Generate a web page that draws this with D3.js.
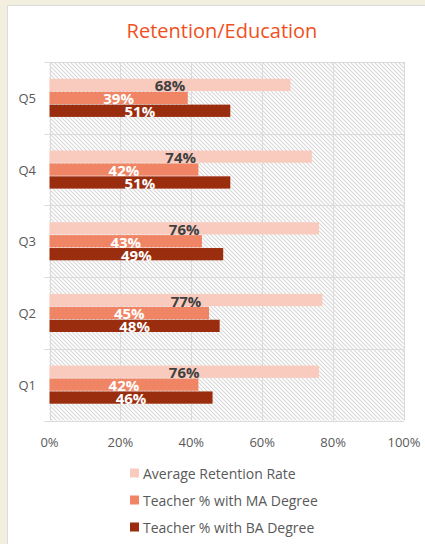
<!DOCTYPE html>
<html>
<head>
<meta charset="utf-8">
<script src="https://cdn.jsdelivr.net/npm/d3@7"></script>
<style>
  html, body { margin: 0; padding: 0; background: #f3efdf; }
  svg { display: block; }
</style>
</head>
<body>
<script>
// Chart data
const categories = ["Q5", "Q4", "Q3", "Q2", "Q1"];
const seriesNames = ["Average Retention Rate", "Teacher % with MA Degree", "Teacher % with BA Degree"];
const retention = [68, 74, 76, 77, 76];
const maDegree  = [39, 42, 43, 45, 42];
const baDegree  = [51, 51, 49, 48, 46];
const xTicks = [0, 20, 40, 60, 80, 100];

const seriesValues = [retention, maDegree, baDegree];
const colors = ["#f9cbbe", "#f08565", "#9b2d0f"];
const labelColors = ["#404040", "#ffffff", "#ffffff"];

const W = 425, H = 544;
const font = "'Open Sans', sans-serif";

const svg = d3.select("body").append("svg").attr("width", W).attr("height", H);

// Panel
svg.append("rect").attr("x", 7.5).attr("y", 5.5).attr("width", W).attr("height", H)
  .attr("fill", "#ffffff").attr("stroke", "#dcdcdc");

// Hatch pattern for the plot area
const defs = svg.append("defs");
const pat = defs.append("pattern").attr("id", "hatch")
  .attr("patternUnits", "userSpaceOnUse").attr("width", 4).attr("height", 4);
pat.append("rect").attr("width", 4).attr("height", 4).attr("fill", "#ffffff");
pat.append("path").attr("d", "M-1,-1 L5,5 M-1,3 L1,5 M3,-1 L5,1")
  .attr("stroke", "#d8d8d8").attr("stroke-width", 1.1);

const plot = { left: 49.5, right: 404, top: 62, bottom: 420.5 };

const x = d3.scaleLinear().domain([0, 100]).range([plot.left, plot.right]);
const y = d3.scaleBand().domain(categories).range([plot.top, plot.bottom]).padding(0);
const ySub = d3.scaleBand().domain(d3.range(seriesNames.length))
  .range([0, y.bandwidth()]).paddingInner(0.05).paddingOuter(1.3);

// Title
svg.append("text").attr("x", 222).attr("y", 38).attr("text-anchor", "middle")
  .attr("font-family", font).attr("font-size", 20).attr("fill", "#f0501e")
  .text("Retention/Education");

// Plot background
svg.append("rect").attr("x", plot.left).attr("y", plot.top)
  .attr("width", plot.right - plot.left).attr("height", plot.bottom - plot.top)
  .attr("fill", "url(#hatch)");

// Gridlines
const grid = svg.append("g").attr("stroke", "#dadada").attr("stroke-width", 1);
xTicks.forEach(t => {
  grid.append("line").attr("x1", Math.round(x(t)) + 0.5).attr("x2", Math.round(x(t)) + 0.5)
    .attr("y1", plot.top).attr("y2", plot.bottom);
});
const bounds = categories.map(c => y(c)).concat([plot.bottom]);
bounds.forEach(b => {
  grid.append("line").attr("x1", plot.left - 5).attr("x2", plot.right)
    .attr("y1", Math.round(b) + 0.5).attr("y2", Math.round(b) + 0.5);
});

// Y axis labels
svg.append("g").selectAll("text").data(categories).join("text")
  .attr("x", 36).attr("y", d => y(d) + y.bandwidth() / 2)
  .attr("text-anchor", "end").attr("dominant-baseline", "central")
  .attr("font-family", font).attr("font-size", 13).attr("fill", "#595959")
  .text(d => d);

// X axis labels
svg.append("g").selectAll("text").data(xTicks).join("text")
  .attr("x", d => x(d)).attr("y", 442)
  .attr("text-anchor", "middle").attr("dominant-baseline", "central")
  .attr("font-family", font).attr("font-size", 13).attr("fill", "#595959")
  .text(d => d + "%");

// Bars
const rows = [];
categories.forEach((c, i) => {
  seriesValues.forEach((vals, s) => rows.push({ cat: c, s, v: vals[i] }));
});

svg.append("g").selectAll("rect").data(rows).join("rect")
  .attr("x", x(0))
  .attr("y", d => y(d.cat) + ySub(d.s))
  .attr("width", d => x(d.v) - x(0))
  .attr("height", ySub.bandwidth())
  .attr("fill", d => colors[d.s]);

// Value labels
svg.append("g").selectAll("text").data(rows).join("text")
  .attr("x", d => (x(0) + x(d.v)) / 2)
  .attr("y", d => y(d.cat) + ySub(d.s) + ySub.bandwidth() / 2 + 6.5)
  .attr("text-anchor", "middle")
  .attr("font-family", font).attr("font-size", 15).attr("font-weight", "bold")
  .attr("fill", d => labelColors[d.s])
  .text(d => d.v + "%");

// Legend
const legend = svg.append("g").selectAll("g").data(seriesNames).join("g")
  .attr("transform", (d, i) => `translate(130, ${473 + i * 27})`);
legend.append("rect").attr("x", 0).attr("y", -4.5).attr("width", 9).attr("height", 9)
  .attr("fill", (d, i) => colors[i]);
legend.append("text").attr("x", 13).attr("y", 0).attr("dominant-baseline", "central")
  .attr("font-family", font).attr("font-size", 14).attr("fill", "#595959")
  .text(d => d);
</script>
</body>
</html>
